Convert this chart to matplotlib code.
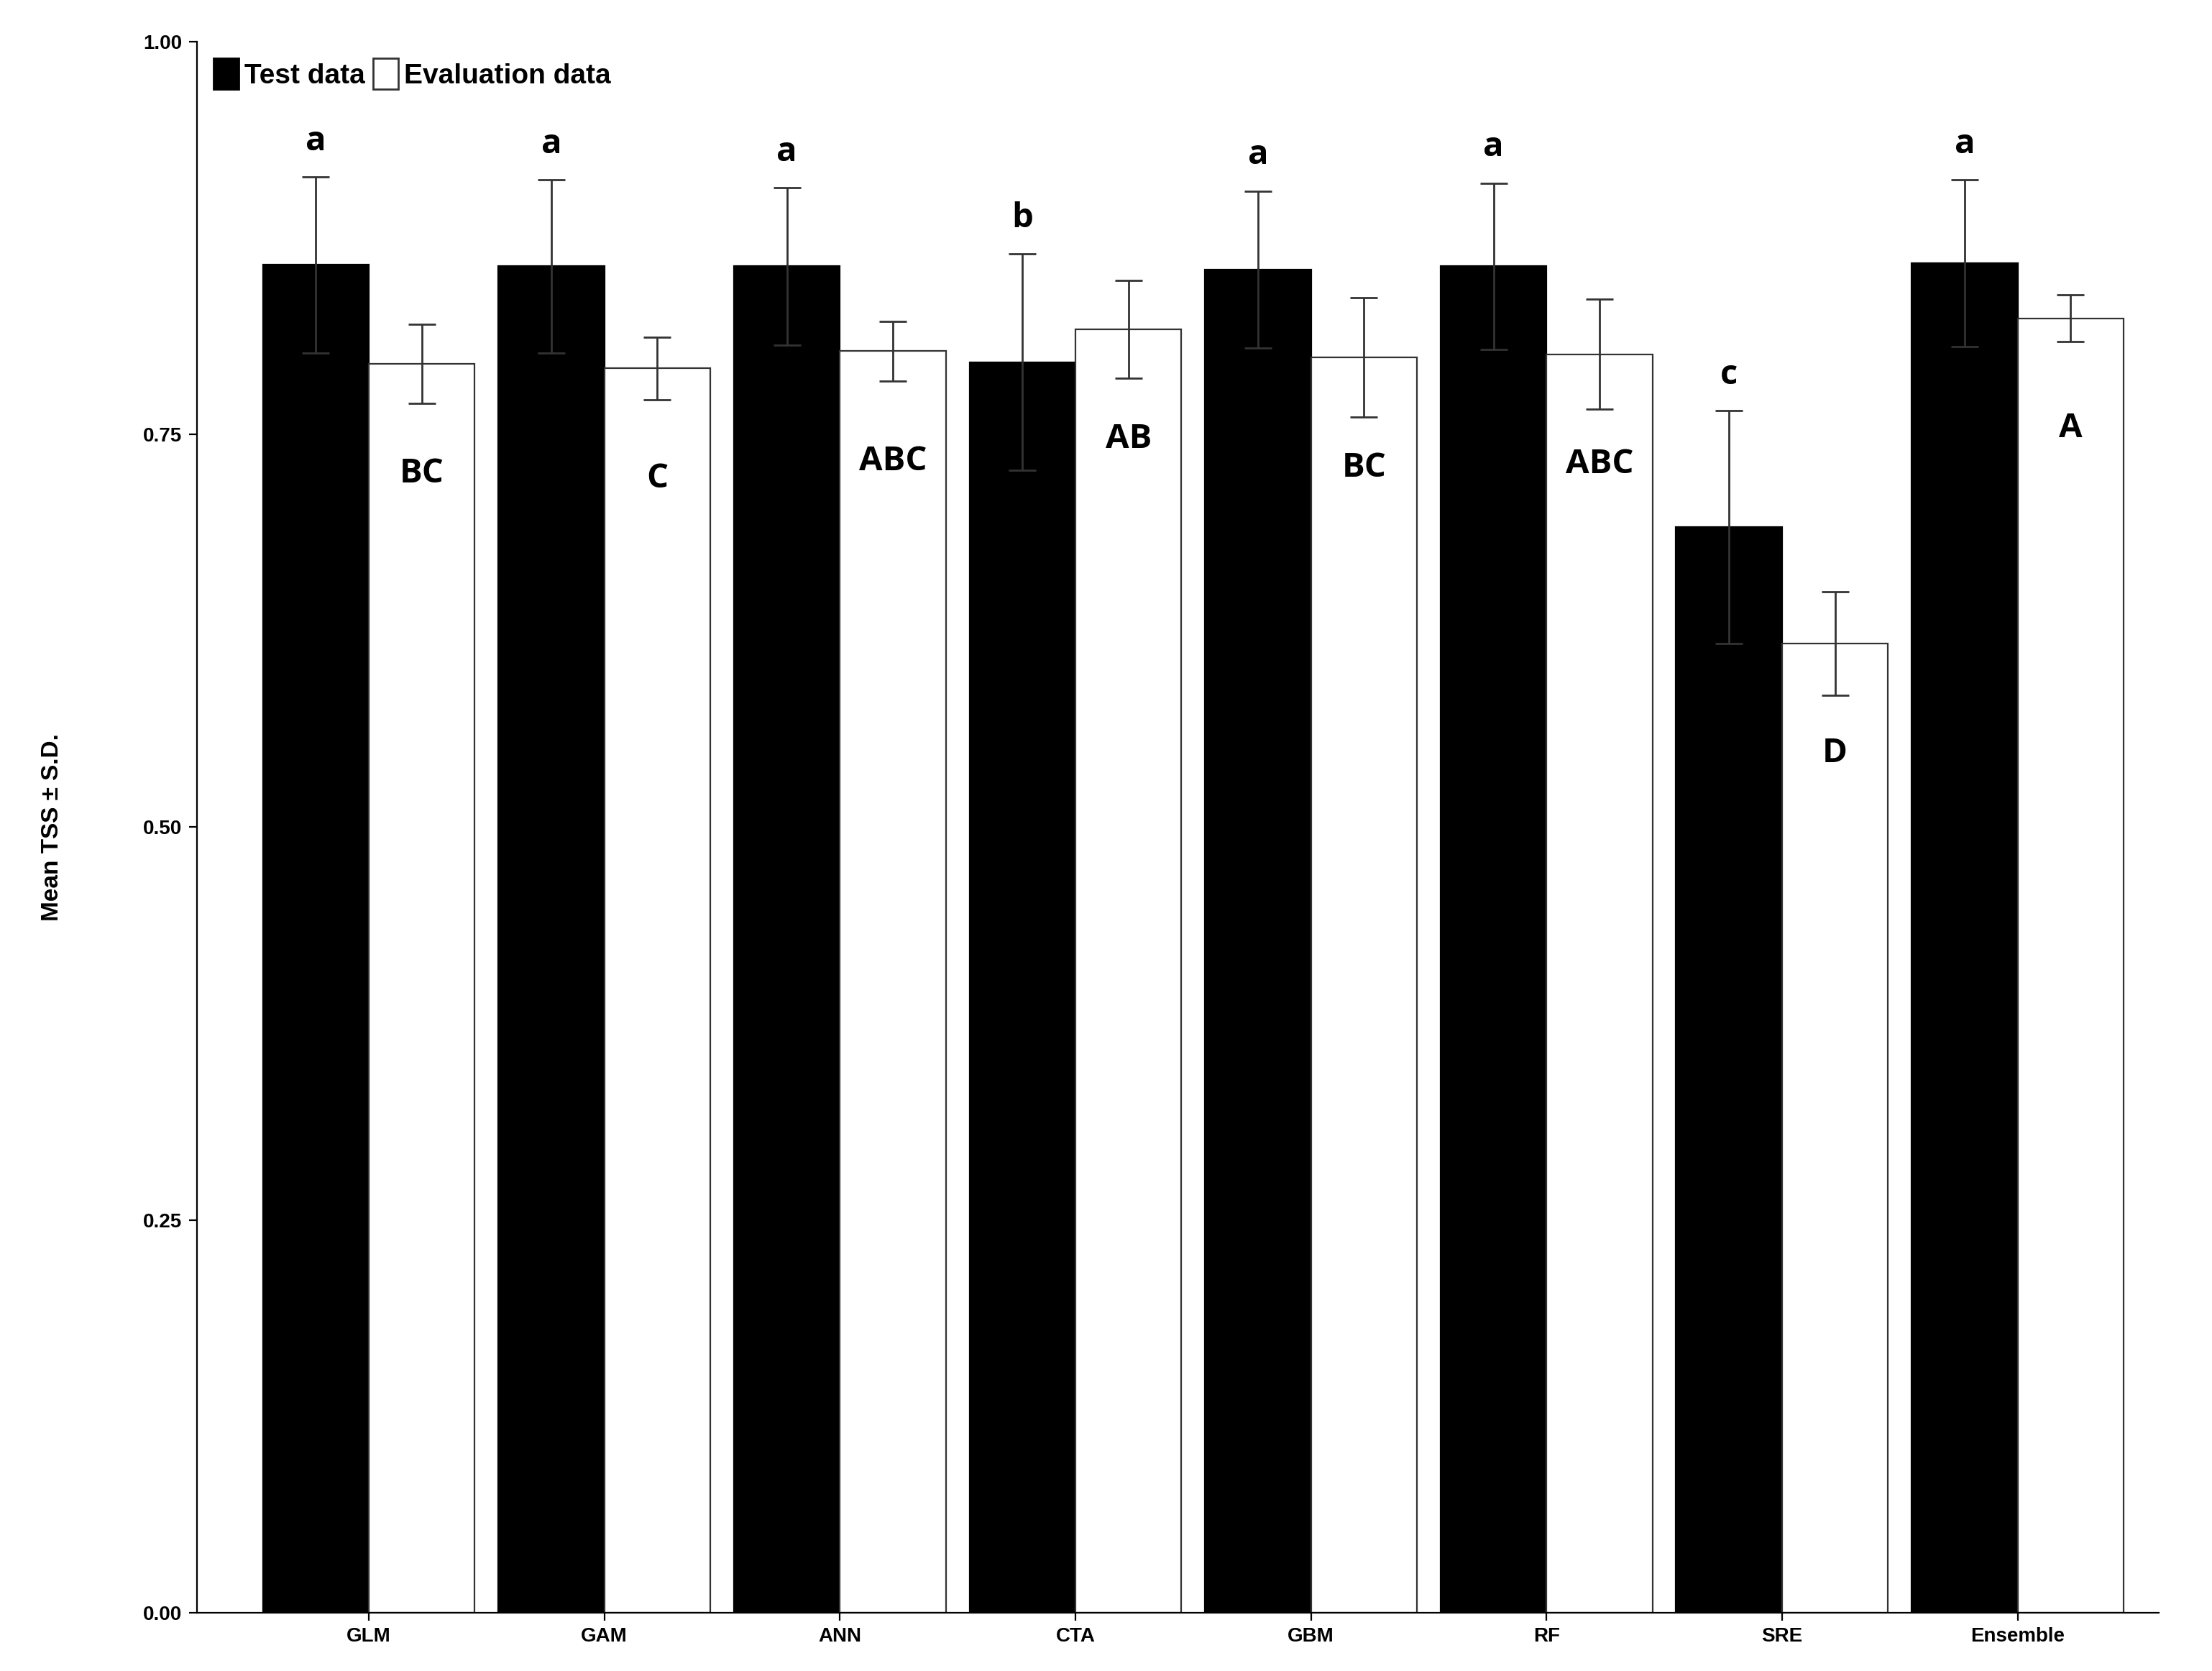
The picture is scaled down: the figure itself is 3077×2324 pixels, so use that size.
import numpy as np
import matplotlib.pyplot as plt
from matplotlib.patches import Patch

models = ['GLM', 'GAM', 'ANN', 'CTA', 'GBM', 'RF', 'SRE', 'Ensemble']
test_mean = [0.858, 0.857, 0.857, 0.796, 0.855, 0.857, 0.691, 0.859]
test_sd = [0.056, 0.055, 0.050, 0.069, 0.050, 0.053, 0.074, 0.053]
eval_mean = [0.795, 0.792, 0.803, 0.817, 0.799, 0.801, 0.617, 0.824]
eval_sd = [0.025, 0.020, 0.019, 0.031, 0.038, 0.035, 0.033, 0.015]
test_letters = ['a', 'a', 'a', 'b', 'a', 'a', 'c', 'a']
eval_letters = ['BC', 'C', 'ABC', 'AB', 'BC', 'ABC', 'D', 'A']

plt.rcParams['font.family'] = ['Liberation Sans', 'DejaVu Sans']

fig = plt.figure(figsize=(15.385, 11.62), dpi=200)
ax = fig.add_axes([0.089, 0.035, 0.887, 0.94])

x = np.arange(len(models))
w = 0.45
err_kw = dict(ecolor='#333333', elinewidth=1.0, capsize=7, capthick=1.0)
ax.bar(x - w / 2, test_mean, w, yerr=test_sd, color='black', edgecolor='black',
       linewidth=0.8, error_kw=err_kw)
ax.bar(x + w / 2, eval_mean, w, yerr=eval_sd, color='white', edgecolor='#333333',
       linewidth=0.8, error_kw=err_kw)

for i in range(len(models)):
    ax.text(x[i] - w / 2, test_mean[i] + test_sd[i] + 0.012, test_letters[i],
            ha='center', va='bottom', fontsize=17, fontweight='bold',
            family='Open Sans')
    ax.text(x[i] + w / 2, eval_mean[i] - 0.07, eval_letters[i],
            ha='center', va='center', fontsize=17, fontweight='bold',
            family='Open Sans')

ax.set_xlim(-0.73, 7.6)
ax.set_ylim(0, 1.0)
ax.set_yticks([0, 0.25, 0.5, 0.75, 1.0])
ax.set_yticklabels(['0.00', '0.25', '0.50', '0.75', '1.00'])
ax.set_xticks(x)
ax.set_xticklabels(models)
for lab in ax.get_xticklabels() + ax.get_yticklabels():
    lab.set_fontweight('bold')
    lab.set_fontsize(10)
ax.set_ylabel('Mean TSS ± S.D.', fontsize=12, fontweight='bold', labelpad=40)
ax.spines['top'].set_visible(False)
ax.spines['right'].set_visible(False)
ax.tick_params(direction='out', length=4)

handles = [Patch(facecolor='black', edgecolor='black'),
           Patch(facecolor='white', edgecolor='#333333')]
ax.legend(handles, ['Test data', 'Evaluation data'], loc='upper left',
          bbox_to_anchor=(0.0, 1.0), ncol=2, frameon=False,
          prop={'weight': 'bold', 'size': 14}, handlelength=0.9,
          handleheight=1.3, handletextpad=0.2, columnspacing=0.3,
          borderaxespad=0.2)

fig.savefig('out.png', dpi=200)
